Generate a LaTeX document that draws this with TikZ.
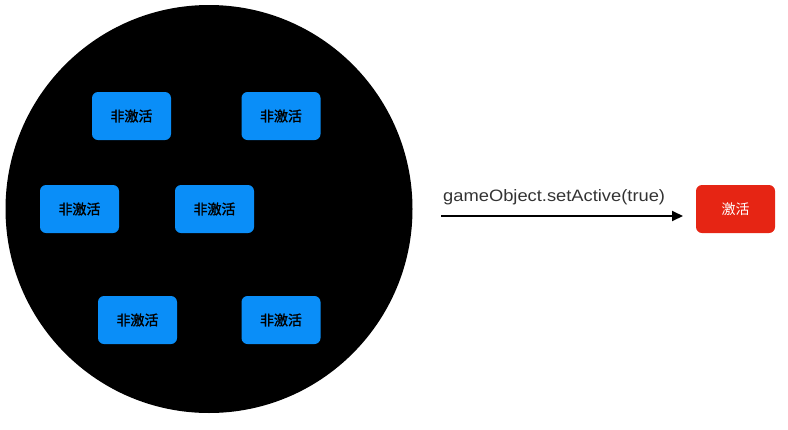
\documentclass[tikz,border=0pt]{standalone}
\usepackage{fontspec}
\setmainfont{Liberation Sans}
\newfontfamily\cjk{Noto Sans CJK SC}
\newfontfamily\cjkb{Noto Sans CJK SC}[FakeBold=1.5]
\usetikzlibrary{arrows.meta}
\definecolor{boxblue}{HTML}{0A8EF8}
\definecolor{boxred}{HTML}{E62514}
\definecolor{txtgray}{HTML}{333333}
\tikzset{
  inactive/.style={fill=boxblue, rounded corners=6pt, minimum width=79pt, minimum height=48pt, inner sep=0pt, font=\cjkb\fontsize{14}{14}\selectfont, text=black},
  activebox/.style={fill=boxred, rounded corners=6pt, minimum width=79pt, minimum height=48pt, inner sep=0pt, font=\cjk\fontsize{14}{14}\selectfont, text=white},
  conn/.style={line width=2pt, -{Triangle[length=11pt,width=10pt]}}
}
\begin{document}
\begin{tikzpicture}[x=1pt,y=-1pt]
\useasboundingbox (0,0) rectangle (788,429);
\fill[black] (209,209) ellipse [x radius=203.5, y radius=204];
\node[inactive] (a) at (131.5,116) {非激活};
\node[inactive] (b) at (281,116) {非激活};
\node[inactive] (c) at (79.5,209) {非激活};
\node[inactive] (d) at (214.5,209) {非激活};
\node[inactive] (e) at (137.5,320) {非激活};
\node[inactive] (f) at (281,320) {非激活};
\node[activebox] (r) at (735.5,209) {激活};
\coordinate (s) at (441,216);
\coordinate (t) at (683,216);
\draw[conn] (s) -- (t);
\node[anchor=base west, text=txtgray, font=\fontsize{16.5}{17}\selectfont, inner sep=0pt] (lbl) at (443,201) {\scalebox{1.11}[1]{gameObject.setActive(true)}};
\end{tikzpicture}
\end{document}
